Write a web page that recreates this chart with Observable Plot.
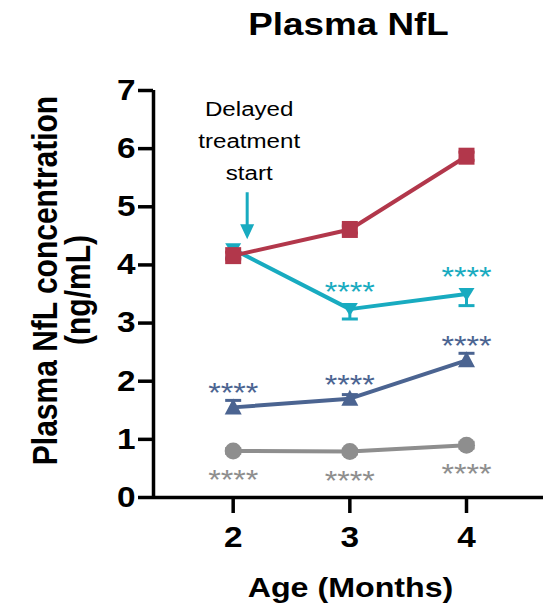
<!DOCTYPE html>
<html>
<head>
<meta charset="utf-8">
<script src="https://cdn.jsdelivr.net/npm/d3@7"></script>
<script src="https://cdn.jsdelivr.net/npm/@observablehq/plot@0.6"></script>
<style>
  html, body { margin: 0; padding: 0; background: #ffffff; }
  #chart { width: 544px; height: 608px; }
</style>
</head>
<body>
<div id="chart"></div>
<script>
// Plasma NfL (ng/mL) by age, mean ± SEM per group
const ages = [2, 3, 4];
const xTicks = [2, 3, 4];
const yTicks = [0, 1, 2, 3, 4, 5, 6, 7];

const untreated = [4.16, 4.61, 5.87];
const untreatedSem = [0.06, 0.06, 0.07];
const untreatedSig = ["", "", ""];

const delayed = [4.27, 3.24, 3.50];
const delayedSem = [0.15, 0.17, 0.20];
const delayedSig = ["", "****", "****"];

const early = [1.55, 1.70, 2.36];
const earlySem = [0.12, 0.07, 0.12];
const earlySig = ["****", "****", "****"];

const control = [0.80, 0.79, 0.90];
const controlSem = [0.04, 0.04, 0.05];
const controlSig = ["****", "****", "****"];

const title = "Plasma NfL";
const yTitle = ["Plasma NfL concentration", "(ng/mL)"];
const xTitle = "Age (Months)";
const note = "Delayed\ntreatment\nstart";

// marker shapes (pixel sizes)
const squareSym = { draw(c) { c.moveTo(-8, -8.5); c.lineTo(8, -8.5); c.lineTo(8, 8.5); c.lineTo(-8, 8.5); c.closePath(); } };
const triUpSym = { draw(c) { c.moveTo(0, -9); c.lineTo(8.5, 7); c.lineTo(-8.5, 7); c.closePath(); } };
const triDownSym = { draw(c) { c.moveTo(-8, -6); c.lineTo(8, -6); c.lineTo(0, 7); c.closePath(); } };
const capSym = { draw(c) { c.moveTo(-8, 0); c.lineTo(8, 0); } };
const arrowSym = { draw(c) {
  c.moveTo(-1.5, -47); c.lineTo(1.5, -47); c.lineTo(1.5, -15);
  c.lineTo(7, -15); c.lineTo(0, 0); c.lineTo(-7, -15); c.lineTo(-1.5, -15); c.closePath();
} };

const rowsOf = (vals, sems, sig) => ages.map((a, i) => ({ age: a, v: vals[i], s: sems[i], sig: sig[i] }));

// drawing order: bottom group first, untreated on top
// err: which side of the mean the error bar is drawn on
const groups = [
  { rows: rowsOf(control, controlSem, controlSig), color: "#8e8e8e", symbol: "circle", r: 8.5, err: ["up", "down"], sigDy: 29 },
  { rows: rowsOf(early, earlySem, earlySig), color: "#4b6491", symbol: triUpSym, r: 8, err: ["up"], sigDy: -14 },
  { rows: rowsOf(delayed, delayedSem, delayedSig), color: "#18abc0", symbol: triDownSym, r: 8, err: ["down"], sigDy: -17 },
  { rows: rowsOf(untreated, untreatedSem, untreatedSig), color: "#b2374b", symbol: squareSym, r: 8, err: ["up", "down"], sigDy: -14 }
];

const groupMarks = groups.flatMap(g => {
  const lo = g.err.includes("down") ? d => d.v - d.s : d => d.v;
  const hi = g.err.includes("up") ? d => d.v + d.s : d => d.v;
  return [
    Plot.ruleX(g.rows, { x: "age", y1: lo, y2: hi, stroke: g.color, strokeWidth: 3 }),
    ...g.err.map(side => Plot.dot(g.rows, {
      x: "age", y: side === "up" ? hi : lo, symbol: capSym, r: 8, stroke: g.color, fill: "none", strokeWidth: 3
    })),
    Plot.line(g.rows, { x: "age", y: "v", stroke: g.color, strokeWidth: 4 }),
    Plot.dot(g.rows, { x: "age", y: "v", symbol: g.symbol, r: g.r, fill: g.color, stroke: "none" }),
    Plot.text(g.rows.filter(d => d.sig), { x: "age", y: "v", text: "sig", fill: g.color, fontSize: 28, dy: g.sigDy })
  ];
});

const chart = Plot.plot({
  width: 544,
  height: 608,
  marginTop: 90,
  marginBottom: 111,
  marginLeft: 153,
  marginRight: 1,
  style: { fontFamily: "'Liberation Sans', Arial, sans-serif", color: "#000", background: "#fff", overflow: "visible" },
  x: { domain: [1.317, 4.66] },
  y: { domain: [0, 7] },
  marks: [
    Plot.axisY({ ticks: yTicks, tickFormat: d => d, tickSize: 15, tickPadding: 3, strokeWidth: 3.5, fontSize: 29, fontWeight: "bold", label: null }),
    Plot.axisX({ ticks: xTicks, tickFormat: d => d, tickSize: 16, tickPadding: 13, strokeWidth: 3.5, fontSize: 29, fontWeight: "bold", label: null }),
    Plot.ruleY([0], { stroke: "#000", strokeWidth: 3.5 }),
    Plot.ruleX([1.317], { y1: 0, y2: 7, stroke: "#000", strokeWidth: 3.5 }),
    ...groupMarks,
    // annotation for the delayed group
    Plot.dot([delayed[0]], { x: () => 2, y: d => d, symbol: arrowSym, r: 8, fill: "#18abc0", stroke: "none", dx: 14, dy: -10 }),
    Plot.text([note], { x: () => 2, text: d => d, frameAnchor: "top", lineAnchor: "middle", dx: 16, dy: 47.5, fontSize: 21, lineHeight: 1.52 }),
    // titles
    Plot.text([title], { text: d => d, frameAnchor: "top", lineAnchor: "middle", dy: -65.5, fontSize: 32, fontWeight: "bold" }),
    Plot.text([xTitle], { text: d => d, frameAnchor: "bottom", lineAnchor: "middle", dx: 2, dy: 91, fontSize: 28, fontWeight: "bold" }),
    Plot.text([yTitle[0]], { text: d => d, frameAnchor: "left", textAnchor: "middle", lineAnchor: "middle", rotate: -90, dx: -108, dy: -13.5, fontSize: 30, fontWeight: "bold" }),
    Plot.text([yTitle[1]], { text: d => d, frameAnchor: "left", textAnchor: "middle", lineAnchor: "middle", rotate: -90, dx: -75, dy: -4, fontSize: 30, fontWeight: "bold" })
  ]
});

// widen glyphs horizontally, keeping each label's anchor in place
const stretch = 1.15;
chart.querySelectorAll("text").forEach(t => {
  const tr = t.getAttribute("transform");
  if (tr) {
    t.setAttribute("transform", tr + (tr.includes("rotate") ? ` scale(1,${stretch})` : ` scale(${stretch},1)`));
  } else {
    const x = +(t.getAttribute("x") || 0), y = +(t.getAttribute("y") || 0);
    t.setAttribute("transform", `translate(${x},${y}) scale(${stretch},1) translate(${-x},${-y})`);
  }
});

document.getElementById("chart").appendChild(chart);
</script>
</body>
</html>
